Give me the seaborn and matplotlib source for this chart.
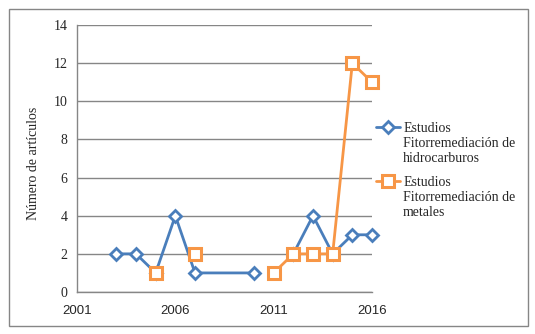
import numpy as np
import pandas as pd
import matplotlib
matplotlib.use("Agg")
import matplotlib.pyplot as plt
from matplotlib.patches import Rectangle
from matplotlib.lines import Line2D
import seaborn as sns

# Publication counts per year (NaN = blank cell, breaks the line)
years = [2003, 2004, 2005, 2006, 2007, 2010, 2011, 2012, 2013, 2014, 2015, 2016]
hidrocarburos = [2, 2, 1, 4, 1, 1, np.nan, 2, 4, 2, 3, 3]
metales = [np.nan, np.nan, 1, np.nan, 2, np.nan, 1, 2, 2, 2, 12, 11]

label_hid = "Estudios\nFitorremediación de\nhidrocarburos"
label_met = "Estudios\nFitorremediación de\nmetales"
x_ticks = [2001, 2006, 2011, 2016]
y_ticks = list(range(0, 15, 2))

sns.set_theme(style="white")
plt.rcParams["font.family"] = ["Liberation Serif", "DejaVu Serif"]

blue = "#4A7EBB"
orange = "#F79646"

fig = plt.figure(figsize=(5.35, 3.34), dpi=100)
ax = fig.add_axes([77 / 535, 1 - 292 / 334, (372 - 77) / 535, (292 - 25) / 334])

# outer chart border
fig.patches.append(Rectangle((9 / 535, 1 - 326 / 334), 519 / 535, 317 / 334,
                             transform=fig.transFigure, fill=False,
                             edgecolor="#868686", linewidth=1.0))


def segments(values):
    df = pd.DataFrame({"year": years, "n": values})
    df["seg"] = df["n"].isna().cumsum()
    return df.dropna()


style_h = dict(color=blue, linewidth=2.0, marker="D", markersize=6.5,
               markerfacecolor="white", markeredgecolor=blue, markeredgewidth=2.0)
style_m = dict(color=orange, linewidth=2.0, marker="s", markersize=8,
               markerfacecolor="white", markeredgecolor=orange, markeredgewidth=2.2)

sns.lineplot(data=segments(hidrocarburos), x="year", y="n", units="seg",
             estimator=None, ax=ax, clip_on=False, **style_h)
sns.lineplot(data=segments(metales), x="year", y="n", units="seg",
             estimator=None, ax=ax, clip_on=False, **style_m)

ax.set_xlim(2001, 2016)
ax.set_ylim(0, 14)
ax.set_xticks(x_ticks)
ax.set_yticks(y_ticks)
ax.yaxis.grid(True, color="#868686", linewidth=1.0)
ax.xaxis.grid(False)
ax.set_axisbelow(True)
ax.set_xlabel("")
ax.set_ylabel("Número de artículos", fontsize=10)
ax.yaxis.set_label_coords(-0.125, 0.48)
for s in ["top", "right"]:
    ax.spines[s].set_visible(False)
for s in ["left", "bottom"]:
    ax.spines[s].set_color("#868686")
    ax.spines[s].set_linewidth(1.0)
ax.tick_params(axis="both", direction="out", length=4, width=1.0, color="#868686",
               labelsize=10, pad=3)
ax.tick_params(axis="x", pad=5)
for t in ax.get_xticklabels():
    t.set_fontfamily(["Liberation Sans", "DejaVu Sans"])
    t.set_fontsize(9.5)

handles = [Line2D([], [], **style_h), Line2D([], [], **style_m)]
leg = fig.legend(handles, [label_hid, label_met], loc="upper left",
                 bbox_to_anchor=(376 / 535, 1 - 122 / 334), frameon=False,
                 fontsize=10, handlelength=1.75, handletextpad=0.2,
                 labelspacing=0.8, borderpad=0, borderaxespad=0)
# put each legend symbol level with the first line of its label
for column in leg._legend_handle_box.get_children():
    for item in column.get_children():
        item.align = "top"

fig.savefig("out.png", dpi=100)
